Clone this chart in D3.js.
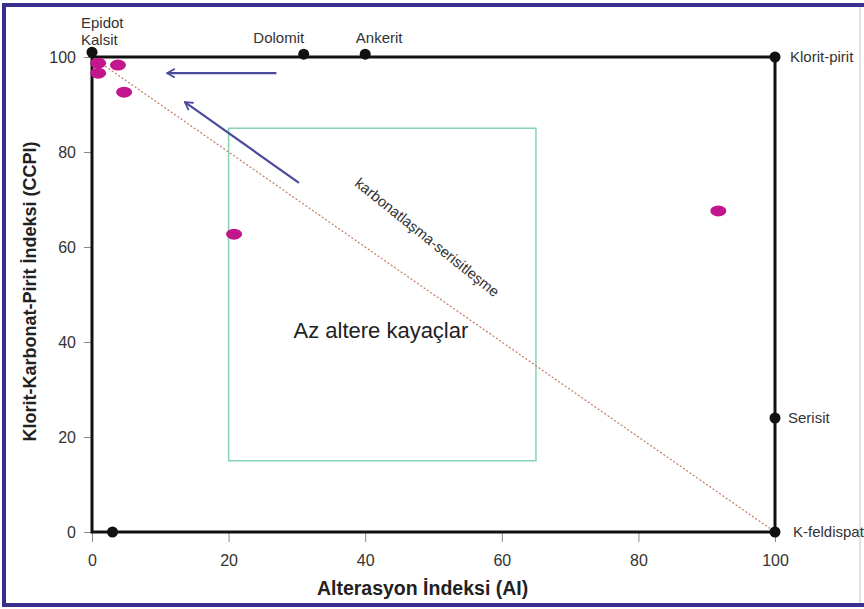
<!DOCTYPE html>
<html>
<head>
<meta charset="utf-8">
<script src="https://cdn.jsdelivr.net/npm/d3@7"></script>
<style>
  body { margin: 0; background: #fff; }
  svg { display: block; font-family: "Liberation Sans", Arial, sans-serif; }
  .tick text { font-size: 16px; fill: #333; }
  .tick line { stroke: #888; }
  .end-label { font-size: 15px; fill: #333; }
</style>
</head>
<body>
<svg id="chart"></svg>
<script>
// end members of the alteration box plot
const endNames = ["Epidot|Kalsit", "Dolomit", "Ankerit", "Klorit-pirit", "Serisit", "K-feldispat", ""];
const endAI = [0, 31, 40, 100, 100, 100, 3];
const endCCPI = [101, 100.6, 100.6, 100, 24, 0, 0];

// samples
const sampleAI = [0.9, 0.9, 3.8, 4.7, 20.8, 91.7];
const sampleCCPI = [98.7, 96.6, 98.3, 92.6, 62.7, 67.6];

// least altered box
const boxAI = [20, 65];
const boxCCPI = [15, 85];

// trend arrows [fromAI, fromCCPI, toAI, toCCPI]
const arrows = [
  [27, 96.6, 11, 96.6],
  [30.3, 73.5, 13.6, 90.5]
];

const xTicks = [0, 20, 40, 60, 80, 100];
const yTicks = [0, 20, 40, 60, 80, 100];

const width = 864, height = 609;
const margin = { top: 57, right: 89, bottom: 77, left: 92 };

const svg = d3.select('#chart')
  .attr('width', width)
  .attr('height', height);

// figure frame
svg.append('line').attr('x1', 860).attr('x2', 860).attr('y1', 5).attr('y2', 605)
  .attr('stroke', '#d8d8d8').attr('stroke-width', 1.5);
svg.append('path')
  .attr('d', `M${width},5 H4 V605 H${width}`)
  .attr('fill', 'none').attr('stroke', '#3a2f8e').attr('stroke-width', 4);

const x = d3.scaleLinear().domain([0, 100]).range([margin.left, width - margin.right]);
const y = d3.scaleLinear().domain([0, 100]).range([height - margin.bottom, margin.top]);

svg.append('g')
  .attr('transform', `translate(0, ${y(0)})`)
  .call(d3.axisBottom(x).tickValues(xTicks).tickSize(10).tickPadding(13))
  .call(g => g.select('.domain').remove());

svg.append('g')
  .attr('transform', `translate(${x(0)}, 0)`)
  .call(d3.axisLeft(y).tickValues(yTicks).tickSize(8).tickPadding(8))
  .call(g => g.select('.domain').remove());

// axis titles
svg.append('text')
  .attr('x', x(48.4))
  .attr('y', 595)
  .attr('text-anchor', 'middle')
  .attr('font-size', 19.5).attr('font-weight', 'bold').attr('fill', '#222')
  .text('Alterasyon İndeksi (AI)');

svg.append('text')
  .attr('transform', `translate(36, ${(y(0) + y(100)) / 2 - 3}) rotate(-90)`)
  .attr('text-anchor', 'middle')
  .attr('font-size', 18).attr('font-weight', 'bold').attr('fill', '#222')
  .text('Klorit-Karbonat-Pirit İndeksi (CCPI)');

// least altered box
svg.append('rect')
  .attr('x', x(boxAI[0]))
  .attr('y', y(boxCCPI[1]))
  .attr('width', x(boxAI[1]) - x(boxAI[0]))
  .attr('height', y(boxCCPI[0]) - y(boxCCPI[1]))
  .attr('fill', 'none').attr('stroke', '#86d2b4').attr('stroke-width', 1.5);

svg.append('text')
  .attr('x', x(42.3)).attr('y', y(40.9))
  .attr('text-anchor', 'middle')
  .attr('font-size', 22).attr('fill', '#222')
  .text('Az altere kayaçlar');

// diagonal trend
svg.append('line')
  .attr('x1', x(0)).attr('y1', y(100))
  .attr('x2', x(100)).attr('y2', y(0))
  .attr('stroke', '#c47a60').attr('stroke-width', 1.2)
  .attr('stroke-dasharray', '2,2');

svg.append('text')
  .attr('transform', `translate(${x(48.6)}, ${y(61.2)}) rotate(38.8)`)
  .attr('text-anchor', 'middle')
  .attr('font-size', 14.8).attr('fill', '#333')
  .text('karbonatlaşma-serisitleşme');

// box outline
svg.append('path')
  .attr('d', `M${x(0)},${y(100)} H${x(100)} V${y(0)} H${x(0)} Z`)
  .attr('fill', 'none').attr('stroke', '#111').attr('stroke-width', 3);

// arrows
svg.append('defs').append('marker')
  .attr('id', 'head')
  .attr('viewBox', '0 0 10 10')
  .attr('refX', 9).attr('refY', 5)
  .attr('markerWidth', 5).attr('markerHeight', 5)
  .attr('markerUnits', 'strokeWidth')
  .attr('orient', 'auto')
  .append('path')
  .attr('d', 'M2,1 L9,5 L2,9')
  .attr('fill', 'none').attr('stroke', '#4b4a9c').attr('stroke-width', 1.6);

svg.append('g').selectAll('line')
  .data(arrows)
  .enter()
  .append('line')
    .attr('x1', d => x(d[0])).attr('y1', d => y(d[1]))
    .attr('x2', d => x(d[2])).attr('y2', d => y(d[3]))
    .attr('stroke', '#4b4a9c').attr('stroke-width', 2.2)
    .attr('marker-end', 'url(#head)');

// end member points
const ends = endAI.map((v, i) => ({ ai: v, ccpi: endCCPI[i], name: endNames[i] }));

svg.append('g').selectAll('circle')
  .data(ends)
  .enter()
  .append('circle')
    .attr('cx', d => x(d.ai))
    .attr('cy', d => y(d.ccpi))
    .attr('r', 5.5)
    .attr('fill', '#111');

const labelPos = {
  'Epidot|Kalsit': { dx: -11, dy: -24, anchor: 'start' },
  'Dolomit': { dx: -25, dy: -11, anchor: 'middle' },
  'Ankerit': { dx: 14, dy: -11, anchor: 'middle' },
  'Klorit-pirit': { dx: 15, dy: 5, anchor: 'start' },
  'Serisit': { dx: 13, dy: 5, anchor: 'start' },
  'K-feldispat': { dx: 18, dy: 5, anchor: 'start' }
};

ends.filter(d => d.name).forEach(d => {
  const p = labelPos[d.name];
  const t = svg.append('text')
    .attr('class', 'end-label')
    .attr('text-anchor', p.anchor)
    .attr('x', x(d.ai) + p.dx)
    .attr('y', y(d.ccpi) + p.dy);
  d.name.split('|').forEach((line, i) => {
    t.append('tspan')
      .attr('x', x(d.ai) + p.dx)
      .attr('dy', i === 0 ? 0 : 17)
      .text(line);
  });
});

// samples
svg.append('g').selectAll('ellipse')
  .data(sampleAI.map((v, i) => [v, sampleCCPI[i]]))
  .enter()
  .append('ellipse')
    .attr('cx', d => x(d[0]))
    .attr('cy', d => y(d[1]))
    .attr('rx', 8).attr('ry', 5.5)
    .attr('fill', '#c2168c');
</script>
</body>
</html>
